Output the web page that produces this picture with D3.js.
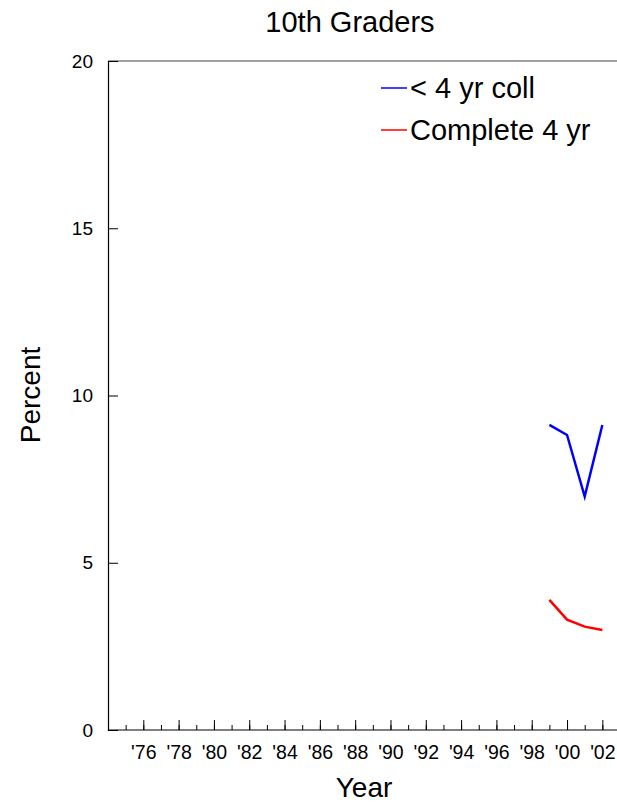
<!DOCTYPE html>
<html><head><meta charset="utf-8">
<script src="https://cdn.jsdelivr.net/npm/d3@7"></script>
<style>body{margin:0;background:#fff}svg{display:block}text{font-family:"Liberation Sans",Arial,sans-serif;fill:#000}</style>
</head><body>
<svg id="c" width="617" height="804"></svg>
<script>
const title = "10th Graders";
const xLabel = "Year";
const yLabel = "Percent";
const years = [1999, 2000, 2001, 2002];
const lessThan4yr = [9.12, 8.82, 6.98, 9.12];
const complete4yr = [3.89, 3.30, 3.09, 2.99];
const seriesNames = ["< 4 yr coll", "Complete 4 yr"];
const seriesColors = ["#0000ff", "#ff0000"];
const yTicks = [0, 5, 10, 15, 20];
const xMajorTicks = [1976,1978,1980,1982,1984,1986,1988,1990,1992,1994,1996,1998,2000,2002];
const xMinorTicks = d3.range(1975, 2003);

const svg = d3.select("#c");
const x = d3.scaleLinear().domain([1974, 2003]).range([108, 620]);
const y = d3.scaleLinear().domain([0, 20]).range([730, 61]);

// top border
svg.append("line").attr("x1", 108).attr("x2", 617).attr("y1", y(20)).attr("y2", y(20))
  .attr("stroke", "#808080").attr("stroke-width", 1.5);

// y axis
const yAxis = d3.axisLeft(y).tickValues(yTicks).tickSize(-10).tickPadding(15).tickFormat(d3.format("d"));
const gy = svg.append("g").attr("transform", "translate(108,0)").call(yAxis);
gy.select(".domain").attr("stroke", "#000").attr("stroke-width", 1.2);
gy.selectAll(".tick line").attr("stroke", "#000");
gy.selectAll(".tick text").attr("font-size", 19).attr("font-family", "Liberation Sans, Arial, sans-serif");

// x axis minor ticks
const gxm = svg.append("g").attr("transform", "translate(0,730)")
  .call(d3.axisBottom(x).tickValues(xMinorTicks).tickSize(-5).tickFormat(""));
gxm.select(".domain").remove();
gxm.selectAll(".tick line").attr("stroke", "#000");
// x axis major ticks
const gx = svg.append("g").attr("transform", "translate(0,730)")
  .call(d3.axisBottom(x).tickValues(xMajorTicks).tickSize(-10).tickPadding(15)
    .tickFormat(d => "'" + String(d).slice(2)));
gx.select(".domain").remove();
gx.selectAll(".tick line").attr("stroke", "#000");
gx.selectAll(".tick text").attr("font-size", 19.5).attr("dy", "0.71em").attr("font-family", "Liberation Sans, Arial, sans-serif");
svg.append("line").attr("x1", 108).attr("x2", 617).attr("y1", 730).attr("y2", 730)
  .attr("stroke", "#000").attr("stroke-width", 1.2);

// lines
const line = d3.line().x(d => x(d[0])).y(d => y(d[1]));
[lessThan4yr, complete4yr].forEach((vals, i) => {
  svg.append("path").datum(years.map((yr, j) => [yr, vals[j]]))
    .attr("d", line).attr("fill", "none").attr("stroke", seriesColors[i]).attr("stroke-width", 2.5);
});

// legend
seriesNames.forEach((name, i) => {
  const ly = 88 + i * 42;
  svg.append("line").attr("x1", 381).attr("x2", 407).attr("y1", ly).attr("y2", ly)
    .attr("stroke", seriesColors[i]).attr("stroke-width", 1.5);
  svg.append("text").attr("x", 410).attr("y", ly + 10).attr("font-size", 29).text(name);
});

// titles
svg.append("text").attr("x", 350).attr("y", 32).attr("text-anchor", "middle").attr("font-size", 29).text(title);
svg.append("text").attr("x", 364).attr("y", 797).attr("text-anchor", "middle").attr("font-size", 28).text(xLabel);
svg.append("text").attr("transform", "translate(40,395) rotate(-90)").attr("text-anchor", "middle").attr("font-size", 28).text(yLabel);
</script>
</body></html>
